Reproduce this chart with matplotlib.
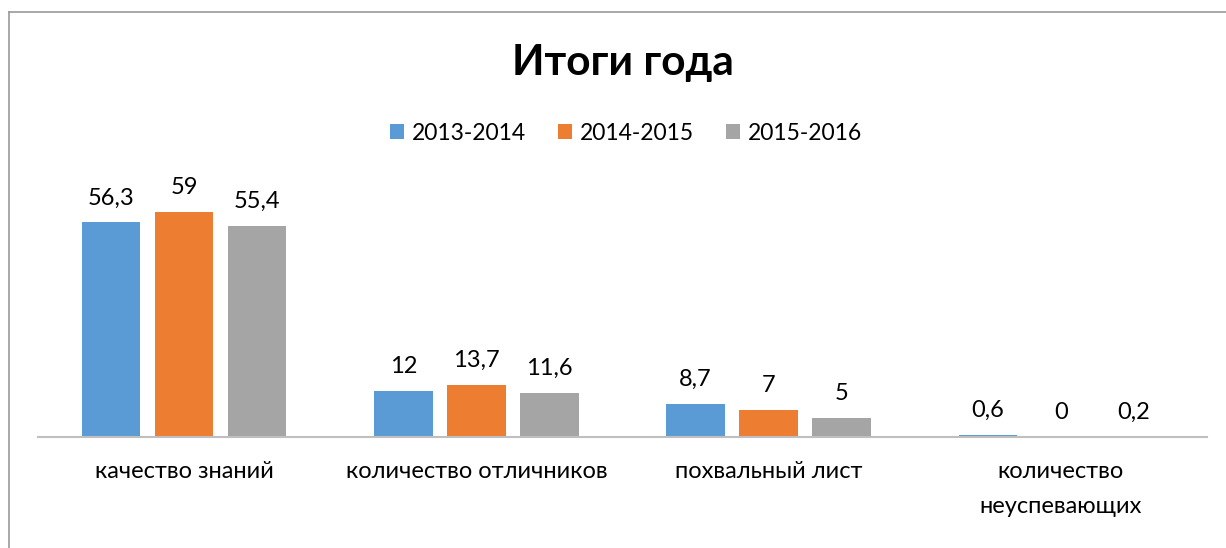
import numpy as np
import matplotlib.pyplot as plt
from matplotlib.lines import Line2D

plt.rcParams['font.family'] = ['Lato', 'DejaVu Sans']

# ----------------------------------------------------------------------
# DATA
# ----------------------------------------------------------------------
categories = ["качество знаний", "количество отличников", "похвальный лист",
              "количество\nнеуспевающих"]
years = ["2013-2014", "2014-2015", "2015-2016"]
vals_2013 = [56.3, 12, 8.7, 0.6]
vals_2014 = [59, 13.7, 7, 0]
vals_2015 = [55.4, 11.6, 5, 0.2]
series = [vals_2013, vals_2014, vals_2015]
colors = ["#5B9BD5", "#ED7D31", "#A5A5A5"]

# ----------------------------------------------------------------------
# FIGURE
# ----------------------------------------------------------------------
W, H = 1226, 548
fig = plt.figure(figsize=(W / 100, H / 100), dpi=100)
ax = fig.add_axes([38 / W, (H - 437) / H, (1207 - 38) / W, 267 / H])

x = np.arange(len(categories))
width = 0.2
offsets = [-0.25, 0, 0.25]

for vals, off, col, lab in zip(series, offsets, colors, years):
    bars = ax.bar(x + off, vals, width, color=col, label=lab, zorder=2)
    for b, v in zip(bars, vals):
        txt = f"{v:g}".replace(".", ",")
        ax.annotate(txt, (b.get_x() + b.get_width() / 2, b.get_height()),
                    xytext=(0, 10), textcoords="offset points",
                    ha="center", va="bottom", fontsize=17, color="#000000")

ax.set_xlim(-0.5, len(categories) - 0.5)
ax.set_ylim(0, 70)
ax.set_yticks([])
ax.set_xticks(x)
ax.set_xticklabels(categories, fontsize=17, linespacing=1.85)
ax.tick_params(axis="x", length=0, pad=17)
for s in ["top", "right", "left"]:
    ax.spines[s].set_visible(False)
ax.spines["bottom"].set_color("#BFBFBF")
ax.spines["bottom"].set_linewidth(1.5)

fig.text(623 / W, 1 - 63 / H, "Итоги года", ha="center", va="center",
         fontsize=30.5, fontweight="bold")

fig.legend(loc="center", bbox_to_anchor=(626 / W, 1 - 133 / H), ncol=3,
           frameon=False, fontsize=16.5, handlelength=0.6, handleheight=0.6,
           handletextpad=0.35, columnspacing=1.4)

# outer frame (top and left edges visible)
fig.add_artist(Line2D([8.5 / W, 1], [1 - 11.5 / H, 1 - 11.5 / H],
                      transform=fig.transFigure, color="#9A9A9A", lw=1.2))
fig.add_artist(Line2D([8.5 / W, 8.5 / W], [0, 1 - 11.5 / H],
                      transform=fig.transFigure, color="#9A9A9A", lw=1.2))

fig.savefig("out.png", dpi=100, facecolor="white")
